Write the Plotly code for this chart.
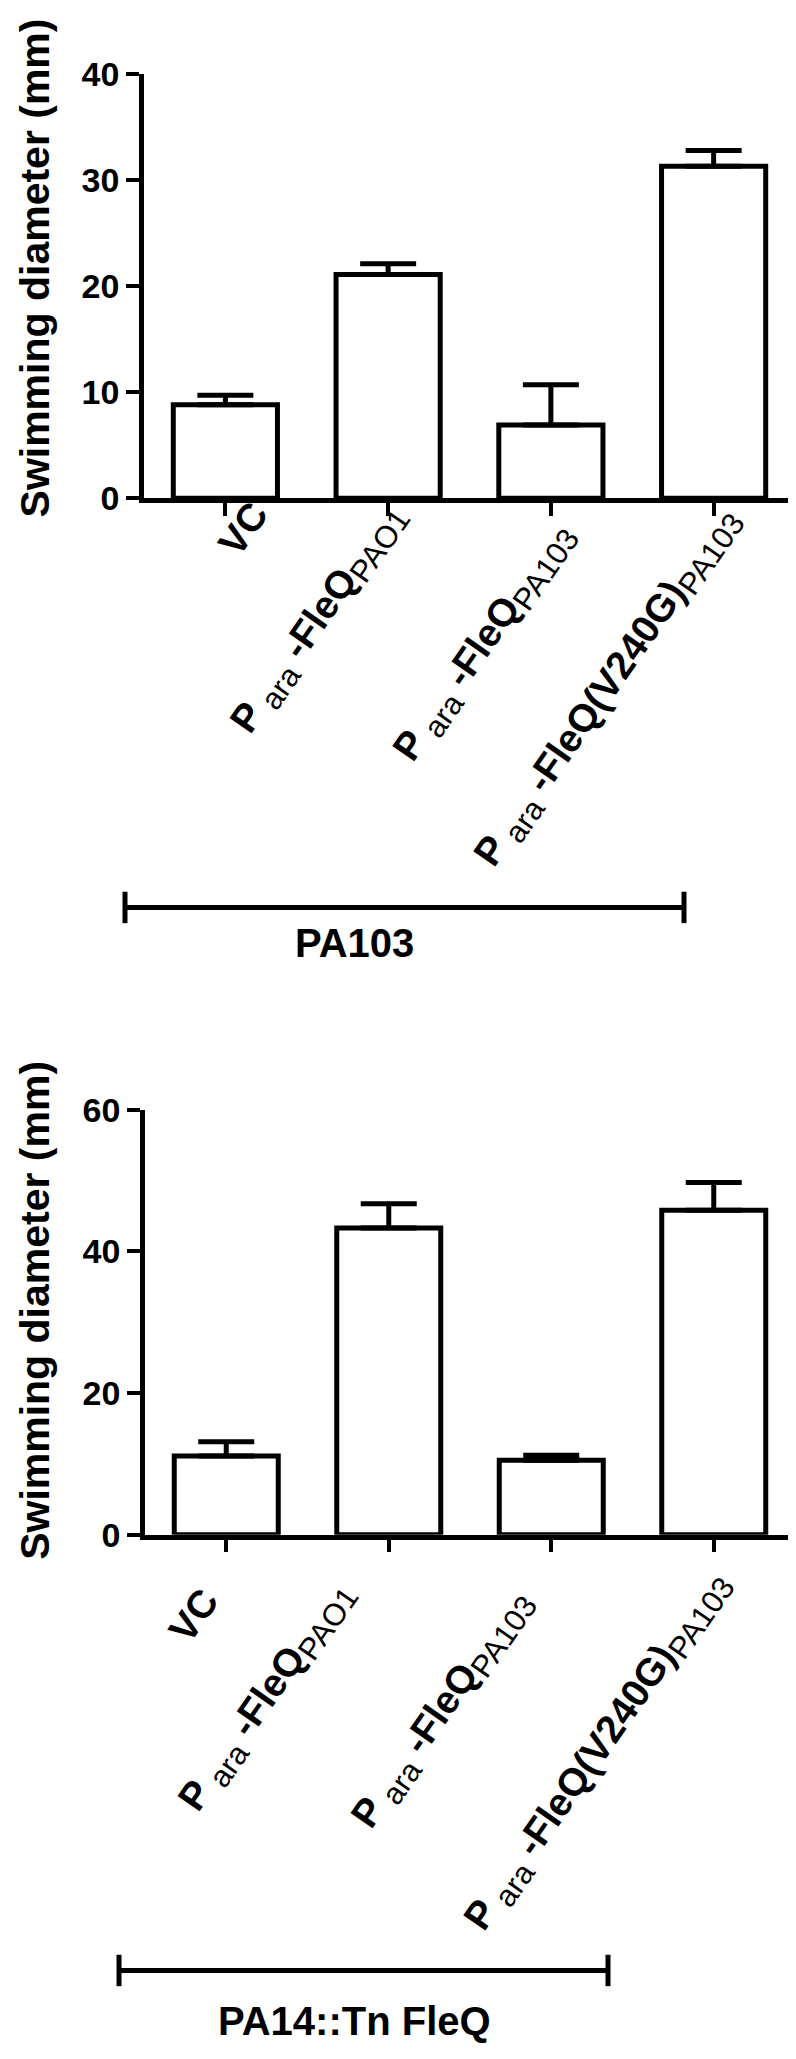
import plotly.graph_objects as go

# ---------------- data ----------------
categories = ["VC", "Para-FleQ PAO1", "Para-FleQ PA103", "Para-FleQ(V240G) PA103"]
SUB = "<sub><span style='font-size:31px'>{}</span></sub>"
label_html = [
    "<b>VC</b>",
    "<b>P</b>" + SUB.format(" ara") + "<b> -FleQ</b>" + SUB.format("PAO1"),
    "<b>P</b>" + SUB.format(" ara") + "<b> -FleQ</b>" + SUB.format("PA103"),
    "<b>P</b>" + SUB.format(" ara") + "<b> -FleQ(V240G)</b>" + SUB.format("PA103"),
]
top_values = [8.8, 21.1, 6.9, 31.3]
top_err = [0.9, 1.0, 3.8, 1.5]
bottom_values = [11.1, 43.3, 10.5, 45.8]
bottom_err = [2.0, 3.4, 0.7, 3.9]
top_ticks = [0, 10, 20, 30, 40]
bottom_ticks = [0, 20, 40, 60]
top_group = "PA103"
bottom_group = "PA14::Tn FleQ"
y_title = "Swimming diameter (mm)"

# ---------------- geometry (pixels) ----------------
W, H = 796, 2059
FONT = "Liberation Sans, Arial, sans-serif"


def fx(p):
    return p / W


def fy(p):
    return 1 - p / H


x_idx = list(range(len(categories)))

fig = go.Figure()
for vals, errs, xa, ya in [(top_values, top_err, "x", "y"),
                           (bottom_values, bottom_err, "x2", "y2")]:
    fig.add_trace(go.Bar(
        x=x_idx, y=vals, width=0.64,
        marker=dict(color="white", line=dict(color="black", width=5)),
        error_y=dict(type="data", array=errs, arrayminus=[0] * len(errs),
                     symmetric=False, color="black", thickness=5, width=28),
        xaxis=xa, yaxis=ya, showlegend=False, hoverinfo="skip",
    ))

common_x = dict(range=[-0.5, 3.5], showline=True, linewidth=4.5, linecolor="black",
                ticks="outside", ticklen=13, tickwidth=4, tickcolor="black",
                tickvals=x_idx, showticklabels=False, showgrid=False, zeroline=False,
                fixedrange=True)
common_y = dict(showline=True, linewidth=4.5, linecolor="black",
                ticks="outside", ticklen=13, tickwidth=4, tickcolor="black",
                tickfont=dict(family=FONT, size=34, color="black", weight="bold"),
                showgrid=False, zeroline=False, fixedrange=True)

fig.update_layout(
    width=W, height=H,
    margin=dict(l=0, r=0, t=0, b=0),
    paper_bgcolor="white", plot_bgcolor="white",
    xaxis=dict(domain=[fx(136), fx(787)], anchor="y", **common_x),
    yaxis=dict(domain=[fy(480), fy(48)], anchor="x", range=[0, 40],
               tickvals=top_ticks, **common_y),
    xaxis2=dict(domain=[fx(137), fx(787)], anchor="y2", **common_x),
    yaxis2=dict(domain=[fy(1536), fy(1103)], anchor="x2", range=[0, 60],
                tickvals=bottom_ticks, **common_y),
)

annotations = []
# rotated category labels: (glyph end x, glyph end y) in pixels
top_label_end = [(267, 483), (408, 483), (577, 503), (742, 487)]
bottom_label_end = [(217, 1590), (356, 1581), (535, 1590), (732, 1571)]
for ends in (top_label_end, bottom_label_end):
    for txt, (ex, ey) in zip(label_html, ends):
        annotations.append(dict(
            text=txt, xref="paper", yref="paper", x=fx(ex + 4), y=fy(ey - 10),
            xanchor="right", yanchor="top", textangle=-55, showarrow=False,
            font=dict(family=FONT, size=39, color="black"),
        ))

# y-axis titles
for cy in (246, 1308):
    annotations.append(dict(
        text="<b>" + y_title + "</b>", xref="paper", yref="paper",
        x=fx(27), y=fy(cy), xanchor="center", yanchor="middle",
        textangle=-90, showarrow=False,
        font=dict(family=FONT, size=41, color="black"),
    ))

# group labels
for txt, cy in ((top_group, 933), (bottom_group, 2032)):
    annotations.append(dict(
        text="<b>" + txt + "</b>", xref="paper", yref="paper",
        x=fx(346), y=fy(cy), xanchor="center", yanchor="middle",
        showarrow=False, font=dict(family=FONT, size=40, color="black"),
    ))

shapes = []
for x0, x1, yb in ((117, 676, 897), (111, 600, 1980)):
    line = dict(color="black", width=5)
    shapes.append(dict(type="line", xref="paper", yref="paper",
                       x0=fx(x0), x1=fx(x1), y0=fy(yb), y1=fy(yb), line=line))
    for xe in (x0, x1):
        shapes.append(dict(type="line", xref="paper", yref="paper",
                           x0=fx(xe), x1=fx(xe), y0=fy(yb - 16), y1=fy(yb + 16),
                           line=line))

fig.update_layout(annotations=annotations, shapes=shapes)
fig.write_html("out.html")
